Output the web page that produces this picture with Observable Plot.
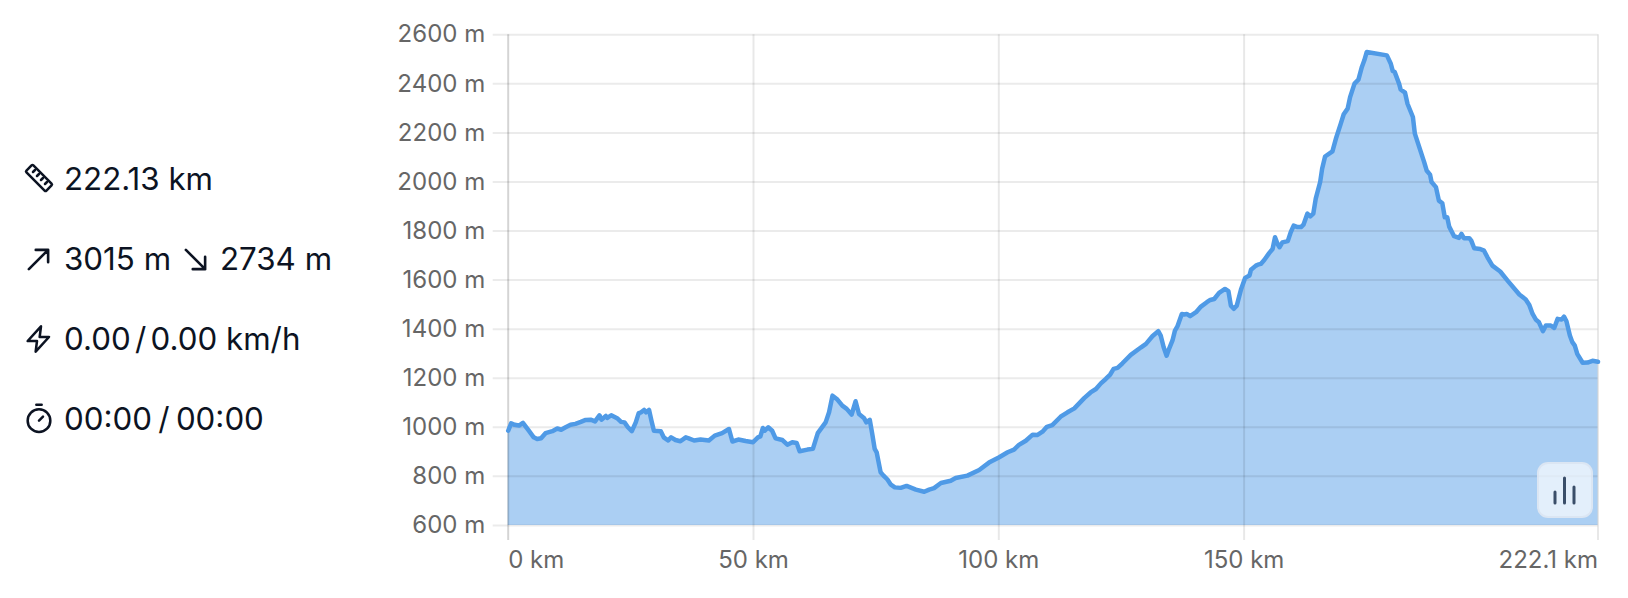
<!DOCTYPE html>
<html><head><meta charset="utf-8">
<script src="https://cdn.jsdelivr.net/npm/d3@7"></script>
<script src="https://cdn.jsdelivr.net/npm/@observablehq/plot@0.6"></script>
<style>
html,body{margin:0;padding:0;background:#fff;width:1628px;height:598px;overflow:hidden}
#wrap{position:relative;width:1628px;height:598px;font-family:Inter,sans-serif}
#wrap svg.plot{position:absolute;left:0;top:0}
.stat{position:absolute;left:64px;font-size:31.3px;line-height:36px;color:#0c1322;white-space:nowrap}
.ico{position:absolute;fill:none;stroke:#0c1322;stroke-width:1.9;stroke-linecap:round;stroke-linejoin:round}
#btn{position:absolute;left:1537px;top:462px;width:52px;height:52px;border-radius:11px;background:rgba(255,255,255,.67);border:2px solid rgba(215,225,240,.7)}
</style></head><body><div id="wrap">
<div class="stat" style="top:161px">222.13 km</div>
<div class="stat" style="top:241px">3015 m</div>
<div class="stat" style="top:241px;left:220px">2734 m</div>
<div class="stat" style="top:321px"><span style="word-spacing:-4.500px">0.00 / </span>0.00 km/h</div>
<div class="stat" style="top:401px"><span style="word-spacing:-2.500px">00:00 / </span>00:00</div>
<svg class="ico" style="left:23px;top:162px" width="32" height="32" viewBox="0 0 24 24"><path d="M2.6 6.4 6.4 2.6a1 1 0 0 1 1.4 0L21.4 16.2a1 1 0 0 1 0 1.4l-3.800 3.800a1 1 0 0 1-1.400 0L2.600 7.800a1 1 0 0 1 0-1.400z"/><path d="M9 6l-1.500 1.500M12 9l-1.500 1.500M15 12l-1.500 1.500M18 15l-1.500 1.500"/></svg>
<svg class="ico" style="left:22px;top:243px" width="33" height="33" viewBox="0 0 24 24"><path d="M5 19 19 5M10 5h9v9"/></svg>
<svg class="ico" style="left:179px;top:243px" width="33" height="33" viewBox="0 0 24 24"><path d="M5 5 19 19M19 10v9h-9"/></svg>
<svg class="ico" style="left:23px;top:323px" width="32" height="32" viewBox="0 0 24 24"><path d="M13.500 2.500 3.500 13.500h7l-1 8 10-11h-7z"/></svg>
<svg class="ico" style="left:23px;top:402px" width="32" height="32" viewBox="0 0 24 24"><path d="M10 2h4M12 14l3-3"/><circle cx="12" cy="14" r="8.500"/></svg>
<div id="btn"></div>
<svg style="position:absolute;left:1537px;top:462px" width="56" height="56" fill="none" stroke="#3a4e69" stroke-width="3" stroke-linecap="round"><path d="M18 30v11M27.500 16v25M37 25v16"/></svg>
</div>
<script>
const kmValues = [0,.6,1.3,2.2,3,4.2,5.2,5.9,6.7,7.6,9,10,10.8,11.7,12.7,13.7,14.8,15.8,16.8,17.7,18.6,19,19.9,20.2,21,22.2,23,23.7,24.4,25.2,26,26.6,27.1,27.7,28.1,28.7,29.2,29.7,31.1,31.7,32.6,33.2,34.1,35.1,36.2,36.8,37.9,39.2,40.9,42.1,43.6,45,45.7,46.9,48.4,49.9,50.9,51.4,51.9,52.3,53,53.8,54.5,55.9,56.9,57.9,58.8,59.4,61,62.1,63.1,64.7,65.4,66.1,67.1,68.1,69,70,70.8,71.5,72.5,73,73.7,74.2,74.7,75.1,75.9,76.5,77.3,78,78.8,80,81.2,83.1,84.8,85.8,86.8,88.2,90.2,91.2,93.6,96,98,100,101.8,103.1,104.1,105.5,106.9,107.9,108.9,109.8,110.9,112.6,114,115.4,117.4,118.7,119.8,120.8,121.8,122.7,123.4,124.2,125.2,126.9,129,130,131.3,132.5,133,133.6,134.2,134.7,135.4,135.9,136.4,137.3,137.8,138.3,139,140.2,141.2,142.4,143.1,143.9,144.9,146.1,146.8,147.3,147.9,148.5,149.4,150.2,151.1,151.4,152.4,152.8,153.4,154.1,155.1,155.8,156.3,156.8,157.2,157.8,158.9,159.5,160.1,160.9,161.6,162.1,162.9,163.5,164.1,164.6,165.5,165.9,166.5,168,168.7,169.7,170.3,171.1,171.6,172.5,173.3,174,174.5,175,179.1,179.9,180.3,180.7,181.6,181.9,182.8,183.3,184.4,184.8,186.7,187.2,187.9,188.2,189.1,189.7,190.4,190.9,191.4,191.8,192.8,193.8,194.3,194.8,195.9,196.3,196.9,198.1,198.9,199.6,200.6,202.2,203.7,206.1,207.4,208.1,208.8,209.5,210.1,210.9,211.5,212.5,213.2,213.9,214.7,215.2,215.7,216.4,216.9,217.4,217.9,219,220,221,222.13];
const elevation = [986,1016,1010,1007,1018,986,959,952,955,976,984,995,990,1000,1010,1014,1022,1030,1031,1024,1049,1031,1046,1038,1049,1037,1022,1020,1000,984,1020,1058,1061,1071,1061,1071,1027,986,984,959,946,959,948,943,959,955,946,950,946,966,976,993,942,950,944,939,959,963,997,986,1000,986,955,948,929,939,936,902,909,912,976,1020,1061,1129,1113,1088,1075,1052,1106,1054,1038,1020,1030,973,912,898,817,803,787,766,755,753,761,746,737,746,752,773,782,793,803,826,856,877,898,909,928,945,970,969,982,1002,1009,1043,1061,1077,1119,1142,1156,1179,1197,1215,1238,1242,1261,1295,1326,1340,1371,1392,1374,1326,1292,1320,1354,1394,1411,1462,1460,1462,1453,1469,1492,1510,1519,1523,1548,1564,1555,1496,1483,1496,1564,1609,1619,1642,1659,1663,1666,1682,1710,1727,1775,1748,1734,1754,1759,1795,1822,1816,1816,1826,1871,1860,1871,1932,2000,2054,2104,2125,2176,2238,2276,2299,2346,2401,2417,2469,2496,2530,2516,2482,2452,2448,2400,2377,2364,2319,2265,2197,2081,2047,2030,2000,1979,1924,1913,1856,1856,1818,1779,1772,1788,1771,1771,1761,1730,1727,1720,1693,1659,1635,1598,1541,1521,1500,1462,1438,1428,1392,1415,1415,1405,1442,1439,1451,1432,1374,1347,1333,1299,1263,1264,1271,1267];
const yTicks = [600,800,1000,1200,1400,1600,1800,2000,2200,2400,2600];
const xTicks = [0,50,100,150,222.13];
const xLabels = ["0 km","50 km","100 km","150 km","222.1 km"];
const rows = kmValues.map((km,i)=>({km,m:elevation[i]}));
const labelColor = "#666666", gridColor = "#000000";
const chart = Plot.plot({
  width:1628, height:598, marginLeft:507.7, marginRight:30.5, marginTop:34.3, marginBottom:73.1,
  style:{fontFamily:"Inter, sans-serif",fontSize:"24px",background:"transparent",overflow:"visible"},
  x:{domain:[0,222.13],axis:null},
  y:{domain:[600,2600],axis:null},
  marks:[
    Plot.areaY(rows,{x:"km",y1:()=>600,y2:"m",fill:"#4f9ae6",fillOpacity:.48}),
    Plot.tickY(yTicks,{y:d=>d,stroke:gridColor,strokeOpacity:.08,strokeWidth:2,insetLeft:-15}),
    Plot.tickX(xTicks,{x:d=>d,stroke:gridColor,strokeOpacity:d=>d===0?.17:.09,strokeWidth:2,insetBottom:-15}),
    Plot.line(rows,{x:"km",y:"m",stroke:"#4f9ae6",strokeWidth:4.5,strokeLinejoin:"round"}),
    Plot.text(yTicks,{x:0,y:d=>d,text:d=>d+" m",textAnchor:"end",dx:-23,fill:labelColor}),
    Plot.text(xTicks.slice(0,1),{x:d=>d,y:600,text:(d,i)=>xLabels[0],textAnchor:"start",dy:35,fill:labelColor}),
    Plot.text(xTicks.slice(1,4),{x:d=>d,y:600,text:(d,i)=>xLabels[i+1],textAnchor:"middle",dy:35,fill:labelColor}),
    Plot.text(xTicks.slice(4),{x:d=>d,y:600,text:(d,i)=>xLabels[4],textAnchor:"end",dy:35,fill:labelColor})
  ]
});
chart.classList.add("plot");
const wrap=document.getElementById("wrap");
wrap.insertBefore(chart,wrap.firstChild);
</script></body></html>
